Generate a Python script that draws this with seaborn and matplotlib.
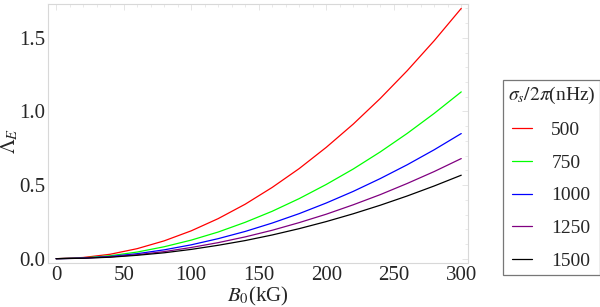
import pandas as pd
import matplotlib.pyplot as plt
import seaborn as sns
from matplotlib.lines import Line2D
from matplotlib.ticker import MultipleLocator

# values
b0 = [0, 20, 40, 60, 80, 100, 120, 140, 160, 180, 200, 220, 240, 260, 280, 300]
lam_500 = [0, 0.008, 0.030, 0.068, 0.121, 0.189, 0.272, 0.370, 0.484, 0.612, 0.756, 0.914, 1.088, 1.277, 1.481, 1.70]
lam_750 = [0, 0.005, 0.020, 0.045, 0.081, 0.126, 0.181, 0.247, 0.322, 0.408, 0.504, 0.609, 0.725, 0.851, 0.987, 1.133]
lam_1000 = [0, 0.004, 0.015, 0.034, 0.060, 0.094, 0.136, 0.185, 0.242, 0.306, 0.378, 0.457, 0.544, 0.638, 0.740, 0.85]
lam_1250 = [0, 0.003, 0.012, 0.027, 0.048, 0.076, 0.109, 0.148, 0.193, 0.245, 0.302, 0.366, 0.435, 0.511, 0.592, 0.68]
lam_1500 = [0, 0.003, 0.010, 0.023, 0.040, 0.063, 0.091, 0.123, 0.161, 0.204, 0.252, 0.305, 0.363, 0.426, 0.494, 0.567]

sigma_labels = ["500", "750", "1000", "1250", "1500"]
series = [lam_500, lam_750, lam_1000, lam_1250, lam_1500]
line_colors = ["#ff0000", "#00ff00", "#0000ff", "#800080", "#000000"]

rows = []
for lab, vals in zip(sigma_labels, series):
    for x, y in zip(b0, vals):
        rows.append({"B0": x, "Lambda": y, "sigma": lab})
df = pd.DataFrame(rows)

sns.set_style("white")
plt.rcParams["font.family"] = ["Liberation Serif", "DejaVu Serif"]
plt.rcParams["mathtext.fontset"] = "stix"

fig = plt.figure(figsize=(6, 3.07), dpi=100)
ax = fig.add_axes([0.08, 0.143, 0.70, 0.844])

palette = dict(zip(sigma_labels, line_colors))
sns.lineplot(data=df, x="B0", y="Lambda", hue="sigma", palette=palette,
             ax=ax, linewidth=0.9, legend=False)

ax.set_xlim(-6, 305)
ax.set_ylim(-0.03, 1.73)
ax.xaxis.set_major_locator(MultipleLocator(50))
ax.xaxis.set_minor_locator(MultipleLocator(10))
ax.yaxis.set_minor_locator(MultipleLocator(0.1))
ax.set_yticks([0.0, 0.5, 1.0, 1.5])
ax.set_yticklabels(["0.0", "0.5", "1.0", "1.5"])
ax.tick_params(which="both", direction="in", color="#e0e0e0", labelsize=15,
               top=True, right=True, pad=2)
ax.tick_params(which="major", length=4, width=0.6)
ax.tick_params(which="minor", length=2, width=0.5)
for sp in ax.spines.values():
    sp.set_color("#d8d8d8")
    sp.set_linewidth(0.8)

ax.set_xlabel(r"$B_0$(kG)", fontsize=15, labelpad=0)
ax.set_ylabel(r"$\Lambda_E$", fontsize=15)
ax.yaxis.set_label_coords(-0.066, 0.47)

handles = [Line2D([], [], color=c, linewidth=0.9) for c in line_colors]
leg = fig.legend(handles, sigma_labels, title=r"$\sigma_s/2\pi$(nHz)",
                 loc="upper left", bbox_to_anchor=(0.838, 0.739),
                 fontsize=14, title_fontsize=14, frameon=True, fancybox=False,
                 handlelength=1.0, handletextpad=1.0, labelspacing=0.78,
                 borderpad=0.25, borderaxespad=0)
leg.get_frame().set_edgecolor("#555555")
leg.get_frame().set_linewidth(0.9)

fig.savefig("out.png", dpi=100)
